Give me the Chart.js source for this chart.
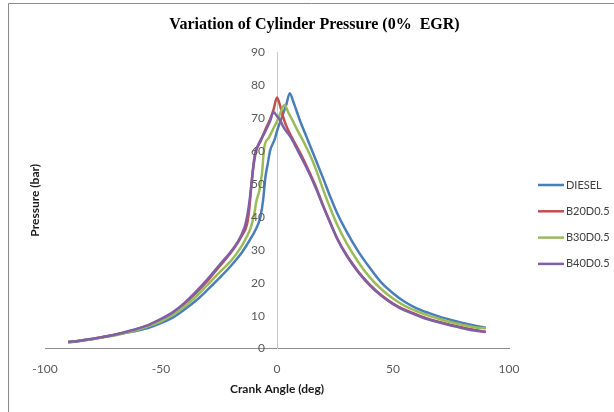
<!DOCTYPE html>
<html>
<head>
<meta charset="utf-8">
<script src="https://cdn.jsdelivr.net/npm/chart.js@4.4.0/dist/chart.umd.min.js"></script>
<style>
html,body{margin:0;padding:0;background:#fff;}
#wrap{width:614px;height:412px;position:relative;}
</style>
</head>
<body>
<div id="wrap"><canvas id="c" width="614" height="412"></canvas></div>
<script>
const chartTitle = 'Variation of Cylinder Pressure (0%  EGR)';
const xAxisTitle = 'Crank Angle (deg)';
const yAxisTitle = 'Pressure (bar)';
const seriesNames = ['DIESEL', 'B20D0.5', 'B30D0.5', 'B40D0.5'];
const seriesColors = ['#4A7EBB', '#C0504D', '#9BBB59', '#7F5FA6'];
const xTickValues = [-100, -50, 0, 50, 100];
const yTickValues = [0, 10, 20, 30, 40, 50, 60, 70, 80, 90];

const dieselAngle = [-90,-85,-80,-75,-70,-65,-60,-55,-50,-45,-40,-35,-30,-25,-20,-15,-11,-8,-7,-6,-5,-4,-3,-1,0,2,4,5.5,7,8,10,12,14,16,18,20,23,26,30,35,40,45,50,55,60,65,70,75,80,85,90];
const dieselPressure = [1.9,2.3,2.8,3.5,4.1,4.8,5.5,6.4,7.7,9.4,11.8,14.5,17.8,21.3,25,29.3,33.8,38,40.5,45,52,56,60,63.5,66,70,74,77.5,75,73,69,65.5,62,58.5,55,51.5,46,41,35.5,29.5,24.5,20,16.8,14.2,12.3,10.9,9.7,8.7,7.8,7,6.3];

const b20Angle = [-90,-85,-80,-75,-70,-65,-60,-55,-50,-45,-40,-35,-30,-25,-20,-17,-15,-13,-12,-11,-10,-9,-7,-5,-3,-1.5,0,1,2,3,5,8,11,14,17,20,23,26,30,35,40,45,50,55,60,65,70,75,80,85,90];
const b20Pressure = [2.0,2.4,2.9,3.5,4.2,5.0,6.0,7.2,8.8,10.8,13.5,16.8,20.5,24.8,29,32,34.5,37.5,42,50,56,60,63,66.5,69.5,72.5,76.2,74.5,72,69.5,66,62,58,53.5,48.7,43.2,38.2,33.4,28.4,23.4,19.4,16.2,13.7,11.8,10.4,9.1,8.1,7.2,6.4,5.7,5.1];

const b30Angle = [-90,-85,-80,-75,-70,-65,-60,-55,-50,-45,-40,-35,-30,-25,-20,-15.5,-13,-11.2,-9.8,-8.8,-7.6,-6.5,-5.5,-3.5,-1.9,0,1.4,3.2,5,6.5,9,12,15,17.5,20,23,26,30,35,40,45,50,55,60,65,70,75,80,85,90];
const b30Pressure = [2.0,2.35,2.8,3.4,4.0,4.8,5.7,6.9,8.3,10.2,12.7,15.7,19.3,23,26.5,30.8,34,36.9,41,45,48,53,61,64,66.3,69,71.4,73.9,71.5,69.5,66,62,57.5,53,48,42.5,37.5,32,26.3,21.6,18,15.2,13,11.4,10.1,9,8,7.2,6.5,6.1,5.8];

const b40Angle = [-90,-85,-80,-75,-70,-65,-60,-55,-50,-45,-40,-35,-30,-25,-20,-17,-15,-13.5,-12,-11,-10.3,-9.5,-8.3,-5.5,-3,-1.5,0,1.3,3,6,9,13,17,20,23,26,30,35,40,45,50,55,60,65,70,75,80,85,90];
const b40Pressure = [2.0,2.4,2.9,3.5,4.2,5.1,6.1,7.3,9,11,13.8,17.2,21,25.2,29.3,32.3,35,38,44,50,55,59,61.5,65.3,69,71.8,70.5,69.3,67,64,60,54.5,48.3,43,38,33.2,28.2,23.2,19.2,16,13.5,11.6,10.2,8.9,7.9,7,6.2,5.5,5.0];

const angleSets = [dieselAngle, b20Angle, b30Angle, b40Angle];
const pressureSets = [dieselPressure, b20Pressure, b30Pressure, b40Pressure];

const datasets = seriesNames.map((name, i) => ({
  label: name,
  data: angleSets[i].map((a, j) => ({x: a, y: pressureSets[i][j]})),
  borderColor: seriesColors[i],
  backgroundColor: seriesColors[i],
  borderWidth: 2.5,
  pointRadius: 0,
  showLine: true,
  fill: false,
  cubicInterpolationMode: 'monotone',
  order: seriesNames.length - i
}));

const framePlugin = {
  id: 'frame',
  beforeDraw(chart) {
    const ctx = chart.ctx;
    ctx.save();
    ctx.fillStyle = '#ffffff';
    ctx.fillRect(0, 0, chart.width, chart.height);
    ctx.strokeStyle = '#8c8c8c';
    ctx.lineWidth = 1;
    ctx.beginPath();
    ctx.moveTo(8.5, chart.height + 5);
    ctx.lineTo(8.5, 3.5);
    ctx.lineTo(chart.width + 5, 3.5);
    ctx.stroke();
    ctx.restore();
  },
  afterDraw(chart) {
    const ctx = chart.ctx;
    const area = chart.chartArea;
    const xs = chart.scales.x;
    const ys = chart.scales.y;
    ctx.save();
    // title
    ctx.fillStyle = '#000000';
    ctx.font = 'bold 16px "Liberation Serif"';
    ctx.textAlign = 'center';
    ctx.textBaseline = 'middle';
    ctx.fillText(chartTitle, 314.5, 25);
    // x axis title
    ctx.font = 'bold 12px Lato';
    ctx.fillStyle = '#1a1a1a';
    ctx.fillText(xAxisTitle, (area.left + area.right) / 2, 389);
    // y tick labels (axis crosses at x = 0)
    const axisX = xs.getPixelForValue(0);
    ctx.font = '12px Lato';
    ctx.fillStyle = '#595959';
    ctx.textAlign = 'right';
    ys.ticks.forEach(t => {
      ctx.fillText(String(t.value), axisX - 12, ys.getPixelForValue(t.value));
    });
    // y axis title
    ctx.save();
    ctx.translate(35, (area.top + area.bottom) / 2);
    ctx.rotate(-Math.PI / 2);
    ctx.textAlign = 'center';
    ctx.font = 'bold 12px Lato';
    ctx.fillStyle = '#1a1a1a';
    ctx.fillText(yAxisTitle, 0, 0);
    ctx.restore();
    // legend
    chart.data.datasets.forEach((ds, i) => {
      const y = 185 + i * 26.3;
      ctx.strokeStyle = ds.borderColor;
      ctx.lineWidth = 2.5;
      ctx.beginPath();
      ctx.moveTo(538, y);
      ctx.lineTo(564, y);
      ctx.stroke();
      ctx.fillStyle = '#404040';
      ctx.font = '11px Lato';
      ctx.textAlign = 'left';
      ctx.textBaseline = 'middle';
      ctx.fillText(ds.label, 566, y);
    });
    ctx.restore();
  }
};

new Chart(document.getElementById('c'), {
  type: 'scatter',
  data: {datasets},
  options: {
    responsive: false,
    animation: false,
    devicePixelRatio: 1,
    layout: {padding: {left: 45, right: 105, top: 52, bottom: 23}},
    plugins: {
      legend: {display: false},
      title: {display: false},
      tooltip: {enabled: false}
    },
    scales: {
      x: {
        type: 'linear',
        min: -100,
        max: 100,
        afterBuildTicks: (scale) => { scale.ticks = xTickValues.map(v => ({value: v})); },
        grid: {display: true, drawOnChartArea: false, drawTicks: false},
        border: {display: true, color: '#8c8c8c', width: 1},
        ticks: {color: '#595959', font: {family: 'Lato', size: 12}, padding: 13, maxRotation: 0},
        title: {display: false}
      },
      y: {
        type: 'linear',
        position: {x: 0},
        min: 0,
        max: 90,
        afterBuildTicks: (scale) => { scale.ticks = yTickValues.map(v => ({value: v})); },
        grid: {display: true, drawOnChartArea: false, drawTicks: false},
        border: {display: true, color: '#c8c8c8', width: 1},
        ticks: {display: false}
      }
    }
  },
  plugins: [framePlugin]
});
</script>
</body>
</html>
